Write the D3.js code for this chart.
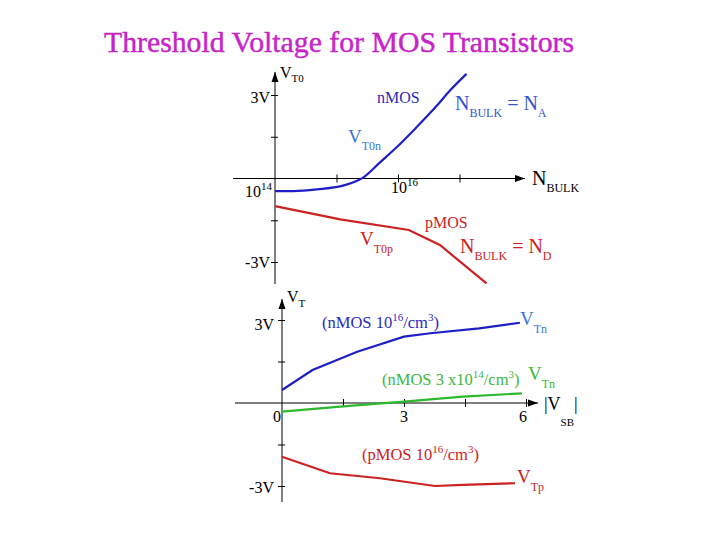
<!DOCTYPE html>
<html><head><meta charset="utf-8">
<script src="https://cdn.jsdelivr.net/npm/d3@7"></script>
<style>body{margin:0;background:#fff}svg{display:block}text{font-family:"Liberation Serif","Times New Roman",serif}</style>
</head><body><svg id="c" width="720" height="540"></svg>
<script>
const titleText = "Threshold Voltage for MOS Transistors";
// Top chart: V_T0 vs N_BULK (log)
const nBulkN = [1e14, 2e14, 4.8e14, 1.4e15, 2.7e15, 5.1e15, 9.5e15, 2e16, 4.3e16, 7e16, 1.3e17];
const vT0n   = [-0.45, -0.45, -0.39, -0.23, 0.03, 0.58, 1.12, 1.84, 2.62, 3.16, 3.76];
const nBulkP = [1e14, 1.15e15, 1.5e16, 4.8e16, 2.75e17];
const vT0p   = [-0.99, -1.47, -1.85, -2.39, -3.77];
const topXTicks = [1e14, 1e15, 1e16, 1e17];
const topYTicks = [-3, -1.5, 0, 1.5, 3];
// Bottom chart: V_T vs |V_SB|
const vsbN16 = [0, 0.75, 1.85, 3.0, 3.65, 4.85, 5.85];
const vTn16  = [0.47, 1.19, 1.85, 2.4, 2.52, 2.7, 2.9];
const vsbN14 = [0, 1.43, 3, 4.45, 5.9];
const vTn14  = [-0.31, -0.13, 0.05, 0.23, 0.35];
const vsbP16 = [0, 1.18, 2.41, 3.76, 4.46, 5.73];
const vTp16  = [-1.94, -2.54, -2.72, -3.0, -2.96, -2.9];
const botXTicks = [0, 1.5, 3, 4.5, 6];
const botYTicks = [-3, -1.5, 0, 1.5, 3];

const BLUE = "#1f1fc8", LBLUE = "#3a78d8", RED = "#cc2222", GREEN = "#2db82d";
const svg = d3.select("#c");

const defs = svg.append("defs");
defs.append("marker").attr("id","arr").attr("viewBox","0 -4 10 8")
  .attr("refX",10).attr("refY",0).attr("markerWidth",11).attr("markerHeight",8)
  .attr("markerUnits","userSpaceOnUse").attr("orient","auto")
  .append("path").attr("d","M0,-3.5L10,0L0,3.5Z").attr("fill","#000");

svg.append("text").attr("x",104).attr("y",52).attr("font-size",29)
  .attr("fill","#cc22cc").attr("stroke","#c020c0").attr("stroke-width",0.4)
  .attr("textLength",470).attr("lengthAdjust","spacingAndGlyphs")
  .text(titleText);

function rich(x, y, parts, fill, size, off, anchor) {
  const t = svg.append("text").attr("x",x).attr("y",y).attr("fill",fill)
    .attr("font-size",size).attr("text-anchor",anchor||"start");
  let cur = 0;
  parts.forEach(([s, k]) => {
    const target = k === "sub" ? off.sub : k === "sup" ? off.sup : 0;
    t.append("tspan").attr("dy", target - cur)
      .attr("font-size", k ? (off.size || size*0.65) : size).text(s);
    cur = target;
  });
  return t;
}

function drawAxes(xs, ys, xTicks, yTicks, xStart, xEnd, yTop, yBottom) {
  const x0 = xs(xTicks[0]), y0 = ys(0);
  svg.append("line").attr("x1",xStart).attr("x2",xEnd).attr("y1",y0).attr("y2",y0)
    .attr("stroke","#000").attr("stroke-width",1).attr("marker-end","url(#arr)");
  svg.append("line").attr("x1",x0).attr("x2",x0).attr("y1",yBottom).attr("y2",yTop)
    .attr("stroke","#000").attr("stroke-width",1).attr("marker-end","url(#arr)");
  const gx = svg.append("g").attr("transform",`translate(0,${y0})`)
    .call(d3.axisBottom(xs).tickValues(xTicks.slice(1)).tickFormat("").tickSize(4));
  gx.select(".domain").remove();
  gx.selectAll(".tick line").attr("y1",-4).attr("y2",4).attr("stroke","#000");
  const gy = svg.append("g").attr("transform",`translate(${x0},0)`)
    .call(d3.axisLeft(ys).tickValues(yTicks.filter(v => v !== 0)).tickFormat("").tickSize(4));
  gy.select(".domain").remove();
  gy.selectAll(".tick line").attr("x1",-4).attr("x2",3).attr("stroke","#000");
}

// ---- Top chart ----
const xT = d3.scaleLog().domain([1e14, 1e16]).range([275, 398]);
const yT = d3.scaleLinear().domain([-3, 3]).range([262, 95]);
drawAxes(xT, yT, topXTicks, topYTicks, 233, 525, 72, 284);
svg.append("path").datum(d3.zip(nBulkN, vT0n))
  .attr("d", d3.line().x(d => xT(d[0])).y(d => yT(d[1])).curve(d3.curveMonotoneX))
  .attr("fill","none").attr("stroke",BLUE).attr("stroke-width",2.2);
svg.append("path").datum(d3.zip(nBulkP, vT0p))
  .attr("d", d3.line().x(d => xT(d[0])).y(d => yT(d[1])))
  .attr("fill","none").attr("stroke",RED).attr("stroke-width",2.2);

rich(280, 78, [["V",""],["T0","sub"]], "#000", 16, {sub:4, size:11});
rich(270, 103, [["3V",""]], "#000", 16, {}, "end");
rich(270, 268, [["-3V",""]], "#000", 16, {}, "end");
rich(245, 197, [["10",""],["14","sup"]], "#000", 16, {sup:-7, size:11});
rich(391, 193, [["10",""],["16","sup"]], "#000", 16, {sup:-7, size:11});
rich(532, 185, [["N",""],["BULK","sub"]], "#000", 20, {sub:7, size:12});
rich(377, 103, [["nMOS",""]], "#2b2bb8", 16, {});
rich(455, 110, [["N",""],["BULK","sub"],[" = N",""],["A","sub"]], "#3355cc", 20, {sub:7, size:12});
rich(348, 143, [["V",""],["T0n","sub"]], LBLUE, 19, {sub:7, size:12});
rich(425, 228, [["pMOS",""]], RED, 16, {});
rich(360, 245, [["V",""],["T0p","sub"]], RED, 19, {sub:8, size:12});
rich(460, 253, [["N",""],["BULK","sub"],[" = N",""],["D","sub"]], RED, 20, {sub:7, size:12});

// ---- Bottom chart ----
const xB = d3.scaleLinear().domain([0, 6]).range([282, 526]);
const yB = d3.scaleLinear().domain([-3, 3]).range([486, 320]);
drawAxes(xB, yB, botXTicks, botYTicks, 235, 538, 299, 502);
const lineB = d3.line().x(d => xB(d[0])).y(d => yB(d[1]));
[[vsbN16, vTn16, BLUE], [vsbN14, vTn14, GREEN], [vsbP16, vTp16, RED]].forEach(([xs, ys, c]) => {
  svg.append("path").datum(d3.zip(xs, ys)).attr("d", lineB)
    .attr("fill","none").attr("stroke",c).attr("stroke-width",2.2);
});

rich(287, 302, [["V",""],["T","sub"]], "#000", 16, {sub:5, size:11});
rich(274, 330, [["3V",""]], "#000", 16, {}, "end");
rich(274, 493, [["-3V",""]], "#000", 16, {}, "end");
rich(xB(0)-5, 422, [["0",""]], "#000", 16, {}, "middle");
rich(xB(3), 422, [["3",""]], "#000", 16, {}, "middle");
rich(xB(6)-3, 422, [["6",""]], "#000", 16, {}, "middle");
rich(544, 410, [["|V",""],["SB","sub"],["|",""]], "#000", 18, {sub:16, size:11});
rich(322, 328, [["(nMOS 10",""],["16","sup"],["/cm",""],["3","sup"],[")",""]], "#2a2ac0", 16.5, {sup:-7, size:11});
rich(520, 325, [["V",""],["Tn","sub"]], LBLUE, 19, {sub:8, size:12});
rich(382, 385, [["(nMOS 3 x10",""],["14","sup"],["/cm",""],["3","sup"],[")",""]], "#3cb83c", 16.5, {sup:-7, size:11});
rich(528, 380, [["V",""],["Tn","sub"]], "#3cb83c", 19, {sub:8, size:12});
rich(362, 460, [["(pMOS 10",""],["16","sup"],["/cm",""],["3","sup"],[")",""]], RED, 16.5, {sup:-7, size:11});
rich(517, 483, [["V",""],["Tp","sub"]], RED, 19, {sub:8, size:12});
</script></body></html>
